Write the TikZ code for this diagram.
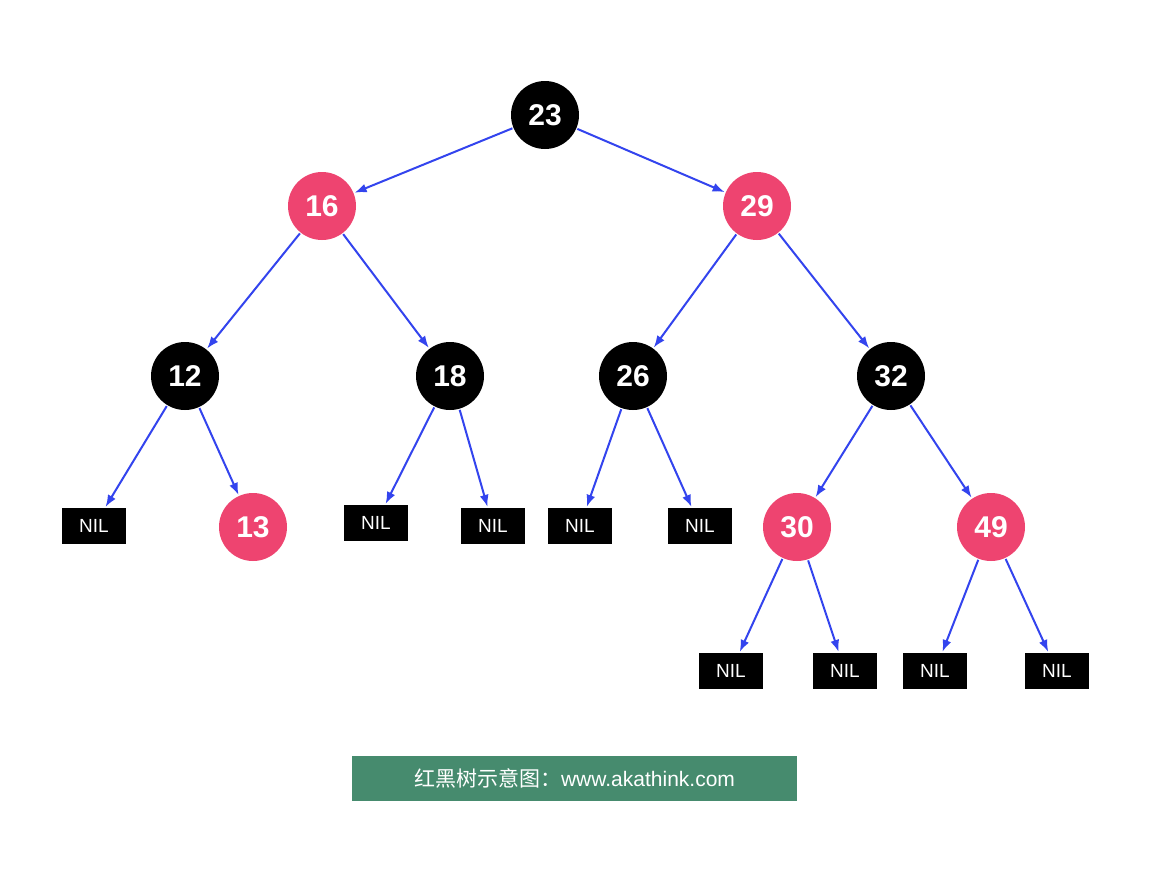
\documentclass[tikz,border=0pt]{standalone}
\usepackage{fontspec}
\setmainfont{Liberation Sans}
\newfontfamily\cjk{Noto Sans CJK SC}
\usetikzlibrary{arrows.meta}
\definecolor{rbred}{HTML}{EE4470}
\definecolor{rbblue}{HTML}{3344EE}
\definecolor{rbgreen}{HTML}{468B6E}
\begin{document}
\begin{tikzpicture}[x=1pt,y=-1pt,
  bn/.style={circle,fill=black,minimum size=68pt,inner sep=0pt,text=white,font=\fontsize{30}{30}\selectfont\bfseries},
  rn/.style={bn,fill=rbred},
  nil/.style={rectangle,fill=black,minimum width=64pt,minimum height=36pt,inner sep=0pt,text=white,font=\fontsize{19}{19}\selectfont},
  ed/.style={draw=rbblue,line width=2pt,-{Latex[length=12pt,width=9pt]},shorten <=1pt,shorten >=1pt}]
\fill[white] (0,0) rectangle (1160,876);
\node[bn] (n23) at (545,115) {23};
\node[rn] (n16) at (322,206) {16};
\node[rn] (n29) at (757,206) {29};
\node[bn] (n12) at (185,376) {12};
\node[bn] (n18) at (450,376) {18};
\node[bn] (n26) at (633,376) {26};
\node[bn] (n32) at (891,376) {32};
\node[nil] (a) at (94,526) {NIL};
\node[rn] (n13) at (253,527) {13};
\node[nil] (b) at (376,523) {NIL};
\node[nil] (c) at (493,526) {NIL};
\node[nil] (d) at (580,526) {NIL};
\node[nil] (e) at (700,526) {NIL};
\node[rn] (n30) at (797,527) {30};
\node[rn] (n49) at (991,527) {49};
\node[nil] (f) at (731,671) {NIL};
\node[nil] (g) at (845,671) {NIL};
\node[nil] (h) at (935,671) {NIL};
\node[nil] (i) at (1057,671) {NIL};
\foreach \p/\c in {n23/n16,n23/n29,n16/n12,n16/n18,n29/n26,n29/n32,n12/a,n12/n13,n18/b,n18/c,n26/d,n26/e,n32/n30,n32/n49,n30/f,n30/g,n49/h,n49/i}
  \draw[ed] (\p) -- (\c);
\node[fill=rbgreen,minimum width=445pt,minimum height=45pt,inner sep=0pt,text=white,font=\fontsize{21}{21}\selectfont] (ban) at (574.5,778.5) {{\cjk 红黑树示意图：}www.akathink.com};
\end{tikzpicture}
\end{document}
